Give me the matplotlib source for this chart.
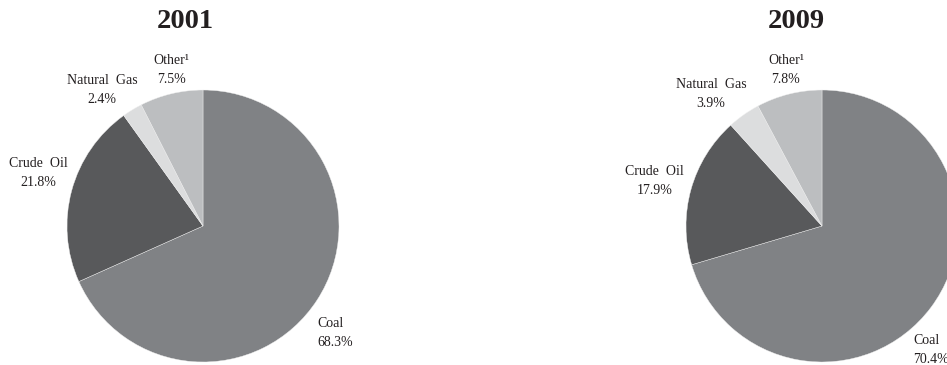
import matplotlib
matplotlib.use("Agg")
import matplotlib.pyplot as plt

# Energy consumption shares (%)
categories = ["Coal", "Crude  Oil", "Natural  Gas", "Other\u00b9"]
share_2001 = [68.3, 21.8, 2.4, 7.5]
share_2009 = [70.4, 17.9, 3.9, 7.8]
years = ["2001", "2009"]

colors = ["#808285", "#58595b", "#dcddde", "#bcbec0"]
text_color = "#231f20"

# label anchor positions in pie-radius units (x, y, horizontal alignment)
label_pos_2001 = [(0.84, -0.79, "left"), (-1.21, 0.39, "center"),
                  (-0.74, 1.0, "center"), (-0.23, 1.147, "center")]
label_pos_2009 = [(0.67, -0.91, "left"), (-1.23, 0.33, "center"),
                  (-0.816, 0.97, "center"), (-0.265, 1.147, "center")]

W, H = 947, 365
fig = plt.figure(figsize=(W / 100, H / 100), dpi=100)
fig.patch.set_facecolor("white")

serif = ["Liberation Serif", "DejaVu Serif"]

def draw_pie(cx, cy, r, values, label_pos, year, title_dx):
    ax = fig.add_axes([(cx - r) / W, (H - cy - r) / H, 2 * r / W, 2 * r / H])
    wedges, _ = ax.pie(values, colors=colors, startangle=90, counterclock=False,
                       radius=1.0,
                       wedgeprops=dict(linewidth=0.3, edgecolor="#f0f0f0"))
    for w in wedges:
        w.set_clip_on(False)
    ax.set_xlim(-1, 1)
    ax.set_ylim(-1, 1)
    ax.set_aspect("equal")
    ax.axis("off")
    for cat, val, (x, y, ha) in zip(categories, values, label_pos):
        ax.text(x, y, f"{cat}\n{val:.1f}%", ha=ha, va="center",
                fontsize=10, family=serif, color=text_color,
                linespacing=1.6, clip_on=False)
    fig.text((cx + title_dx) / W, 1 - 21 / H, year, ha="center", va="center",
             fontsize=20.5, fontweight="bold", family=serif, color=text_color)

draw_pie(203, 226, 136, share_2001, label_pos_2001, years[0], -18)
draw_pie(822, 226, 136, share_2009, label_pos_2009, years[1], -26)

fig.savefig("out.png", dpi=100, facecolor="white")
